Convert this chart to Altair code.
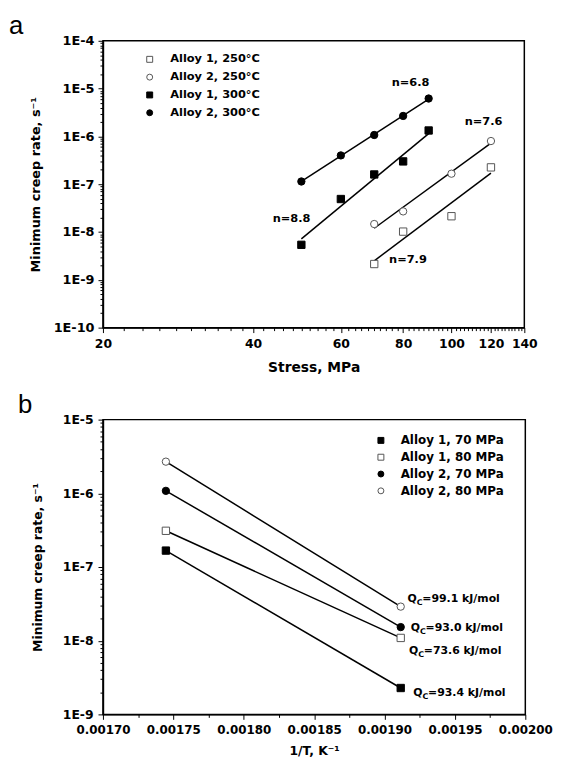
import altair as alt
import pandas as pd

# ---------------- Panel (a): creep rate vs stress ----------------
a_series = ["Alloy 1, 250°C", "Alloy 2, 250°C", "Alloy 1, 300°C", "Alloy 2, 300°C"]
a_shapes = ["square", "circle", "square", "circle"]
a_fills = ["white", "white", "black", "black"]
a_strokes = ["#555555", "#555555", "black", "black"]

a1_250_stress = [70, 80, 100, 120]
a1_250_rate = [2.14e-9, 1.02e-8, 2.14e-8, 2.25e-7]
a2_250_stress = [70, 80, 100, 120]
a2_250_rate = [1.47e-8, 2.7e-8, 1.66e-7, 8.0e-7]
a1_300_stress = [50, 60, 70, 80, 90]
a1_300_rate = [5.4e-9, 4.9e-8, 1.6e-7, 3.0e-7, 1.33e-6]
a2_300_stress = [50, 60, 70, 80, 90]
a2_300_rate = [1.14e-7, 4.0e-7, 1.07e-6, 2.68e-6, 6.2e-6]

# fitted power-law lines (end points)
fit_a1_250_stress = [70, 120]
fit_a1_250_rate = [2.5e-9, 1.7e-7]
fit_a2_250_stress = [70, 120]
fit_a2_250_rate = [1.2e-8, 7.2e-7]
fit_a1_300_stress = [50, 90]
fit_a1_300_rate = [7.2e-9, 1.14e-6]
fit_a2_300_stress = [50, 90]
fit_a2_300_rate = [1.15e-7, 6.0e-6]

n_labels = ["n=6.8", "n=7.6", "n=8.8", "n=7.9"]
n_x = [82.8, 116.0, 47.8, 81.8]
n_y = [1.29e-5, 1.98e-6, 1.91e-8, 2.64e-9]

a_x_major = [20, 40, 60, 80, 100, 120, 140]
a_y_major = [1e-10, 1e-9, 1e-8, 1e-7, 1e-6, 1e-5, 1e-4]

# ---------------- Panel (b): creep rate vs 1/T ----------------
b_series = ["Alloy 1, 70 MPa", "Alloy 1, 80 MPa", "Alloy 2, 70 MPa", "Alloy 2, 80 MPa"]
b_shapes = ["square", "square", "circle", "circle"]
b_fills = ["black", "white", "black", "white"]
b_strokes = ["black", "#555555", "black", "#555555"]

inv_t = [0.0017447, 0.0019115]
b_a1_70 = [1.67e-7, 2.28e-9]
b_a1_80 = [3.1e-7, 1.09e-8]
b_a2_70 = [1.08e-6, 1.53e-8]
b_a2_80 = [2.69e-6, 2.9e-8]

q_text = ["=99.1 kJ/mol", "=93.0 kJ/mol", "=73.6 kJ/mol", "=93.4 kJ/mol"]
q_x = [0.0019163, 0.0019186, 0.0019174, 0.0019204]
q_y = [3.68e-8, 1.50e-8, 7.3e-9, 1.95e-9]

b_x_major = [0.00170, 0.00175, 0.00180, 0.00185, 0.00190, 0.00195, 0.00200]
b_y_major = [1e-9, 1e-8, 1e-7, 1e-6, 1e-5]

panel_labels = ["a", "b"]

FONT = "DejaVu Sans"

# ---------- tables ----------
pts_a = pd.concat([
    pd.DataFrame({"stress": a1_250_stress, "rate": a1_250_rate, "series_a": a_series[0]}),
    pd.DataFrame({"stress": a2_250_stress, "rate": a2_250_rate, "series_a": a_series[1]}),
    pd.DataFrame({"stress": a1_300_stress, "rate": a1_300_rate, "series_a": a_series[2]}),
    pd.DataFrame({"stress": a2_300_stress, "rate": a2_300_rate, "series_a": a_series[3]}),
])
fit_a = pd.concat([
    pd.DataFrame({"stress": fit_a1_250_stress, "rate": fit_a1_250_rate, "fit": "a1_250"}),
    pd.DataFrame({"stress": fit_a2_250_stress, "rate": fit_a2_250_rate, "fit": "a2_250"}),
    pd.DataFrame({"stress": fit_a1_300_stress, "rate": fit_a1_300_rate, "fit": "a1_300"}),
    pd.DataFrame({"stress": fit_a2_300_stress, "rate": fit_a2_300_rate, "fit": "a2_300"}),
])
lab_a = pd.DataFrame({"stress": n_x, "rate": n_y, "label": n_labels})

pts_b = pd.concat([
    pd.DataFrame({"invT": inv_t, "rate_b": b_a1_70, "series_b": b_series[0]}),
    pd.DataFrame({"invT": inv_t, "rate_b": b_a1_80, "series_b": b_series[1]}),
    pd.DataFrame({"invT": inv_t, "rate_b": b_a2_70, "series_b": b_series[2]}),
    pd.DataFrame({"invT": inv_t, "rate_b": b_a2_80, "series_b": b_series[3]}),
])
lab_b = pd.DataFrame({"invT": q_x, "rate_b": q_y, "rest": q_text, "q": "Q", "c": "C"})

# ---------- tick helpers (major + minor positions) ----------
a_x_ticks = list(range(20, 141, 2))
a_y_ticks = sorted({m * d for d in a_y_major[:-1] for m in range(1, 10)} | {a_y_major[-1]})
b_x_ticks = [round(0.0017 + i * 0.000025, 7) for i in range(13)]
b_y_ticks = sorted({m * d for d in b_y_major[:-1] for m in range(1, 10)} | {b_y_major[-1]})

log_major = "abs(log(datum.value)/LN10 - round(log(datum.value)/LN10)) < 0.001"
log_label = f"{log_major} ? '1E' + round(log(datum.value)/LN10) : ''"
ax_major = "datum.value % 20 == 0"
bx_major = "abs(datum.value*20000 - round(datum.value*20000)) < 0.01"


def tick_size(test, big, small):
    return {"condition": {"test": test, "value": big}, "value": small}


def panel_label(text, dx):
    return alt.Chart(pd.DataFrame({"panel": [text]})).mark_text(
        font="Liberation Sans", fontSize=26, color="black", align="left",
        baseline="top").encode(text="panel:N", x=alt.value(dx), y=alt.value(-28))


# ---------- panel a ----------
xa = alt.X("stress:Q",
           scale=alt.Scale(type="log", domain=[20, 140], nice=False),
           axis=alt.Axis(values=a_x_ticks, labelExpr=f"{ax_major} ? datum.value : ''",
                         tickSize=tick_size(ax_major, 5, 3), labelFontSize=12.5,
                         labelPadding=5, title="Stress, MPa", titleFontSize=14,
                         titlePadding=11, labelFlush=False, labelOverlap=False))
ya = alt.Y("rate:Q",
           scale=alt.Scale(type="log", domain=[1e-10, 1e-4], nice=False),
           axis=alt.Axis(values=a_y_ticks, labelExpr=log_label,
                         tickSize=tick_size(log_major, 5, 3), labelFontSize=13,
                         labelPadding=4, title="Minimum creep rate, s⁻¹",
                         titleFontSize=13, titlePadding=11, labelFlush=False,
                         labelOverlap=False))

legend_a = alt.Legend(title=None, orient="top-left", offset=12.5, symbolOffset=28.5,
                      labelFont=FONT, labelFontWeight="bold", labelFontSize=11.5,
                      labelColor="black", symbolSize=36, labelOffset=15,
                      rowPadding=5, padding=0, symbolStrokeWidth=1)

lines_a = alt.Chart(fit_a).mark_line(color="black", strokeWidth=1.5).encode(
    x=xa, y=ya, detail="fit:N")
points_a = alt.Chart(pts_a).mark_point(filled=True, size=55, opacity=1, strokeWidth=1).encode(
    x=xa, y=ya,
    shape=alt.Shape("series_a:N", scale=alt.Scale(domain=a_series, range=a_shapes), legend=legend_a),
    fill=alt.Fill("series_a:N", scale=alt.Scale(domain=a_series, range=a_fills), legend=legend_a),
    stroke=alt.Stroke("series_a:N", scale=alt.Scale(domain=a_series, range=a_strokes), legend=legend_a),
)
text_a = alt.Chart(lab_a).mark_text(font=FONT, fontWeight="bold", fontSize=11.5,
                                    color="black", align="center", baseline="middle").encode(
    x=xa, y=ya, text="label:N")

chart_a = alt.layer(lines_a, points_a, text_a, panel_label(panel_labels[0], -95)).properties(
    width=426, height=290)

# ---------- panel b ----------
xb = alt.X("invT:Q",
           scale=alt.Scale(domain=[0.0017, 0.0020], nice=False, zero=False),
           axis=alt.Axis(values=b_x_ticks,
                         labelExpr=f"{bx_major} ? format(datum.value, '.5f') : ''",
                         tickSize=tick_size(bx_major, 5, 3), labelFontSize=12,
                         labelPadding=5, title="1/T, K⁻¹", titleFontSize=12.5,
                         titlePadding=10, labelFlush=False, labelOverlap=False))
yb = alt.Y("rate_b:Q",
           scale=alt.Scale(type="log", domain=[1e-9, 1e-5], nice=False),
           axis=alt.Axis(values=b_y_ticks, labelExpr=log_label,
                         tickSize=tick_size(log_major, 5, 3), labelFontSize=12.5,
                         labelPadding=5, title="Minimum creep rate, s⁻¹",
                         titleFontSize=12.5, titlePadding=18, labelFlush=False,
                         labelOverlap=False))

legend_b = alt.Legend(title=None, orient="none", legendX=275, legendY=15,
                      labelFont=FONT, labelFontWeight="bold", labelFontSize=12,
                      labelColor="black", symbolSize=36, labelOffset=14,
                      rowPadding=5, padding=0, symbolStrokeWidth=1)

lines_b = alt.Chart(pts_b).mark_line(color="black", strokeWidth=1.5).encode(
    x=xb, y=yb, detail="series_b:N")
points_b = alt.Chart(pts_b).mark_point(filled=True, size=55, opacity=1, strokeWidth=1).encode(
    x=xb, y=yb,
    shape=alt.Shape("series_b:N", scale=alt.Scale(domain=b_series, range=b_shapes), legend=legend_b),
    fill=alt.Fill("series_b:N", scale=alt.Scale(domain=b_series, range=b_fills), legend=legend_b),
    stroke=alt.Stroke("series_b:N", scale=alt.Scale(domain=b_series, range=b_strokes), legend=legend_b),
)
q_base = alt.Chart(lab_b)
q_main = q_base.mark_text(font=FONT, fontWeight="bold", fontSize=11, color="black",
                          align="left", baseline="middle").encode(x=xb, y=yb, text="q:N")
q_sub = q_base.mark_text(font=FONT, fontWeight="bold", fontSize=8, color="black",
                         align="left", baseline="middle", dx=9.3, dy=4).encode(x=xb, y=yb, text="c:N")
q_rest = q_base.mark_text(font=FONT, fontWeight="bold", fontSize=11, color="black",
                          align="left", baseline="middle", dx=15).encode(x=xb, y=yb, text="rest:N")

chart_b = alt.layer(lines_b, points_b, q_main, q_sub, q_rest,
                    panel_label(panel_labels[1], -86)).properties(width=427, height=298)

chart = alt.vconcat(chart_a, chart_b, spacing=15).properties(
    padding={"left": 0, "top": 0, "right": 0, "bottom": 0}
).resolve_scale(
    shape="independent", fill="independent", stroke="independent"
).configure_view(
    stroke="black", strokeWidth=1.5
).configure_axis(
    domainColor="black", domainWidth=1.5, tickColor="black", tickWidth=1,
    labelFont=FONT, labelFontWeight="bold", labelColor="black",
    titleFont=FONT, titleFontWeight="bold", titleColor="black", grid=False
)

chart.save("out.html", embed_options={"renderer": "svg", "actions": False})
